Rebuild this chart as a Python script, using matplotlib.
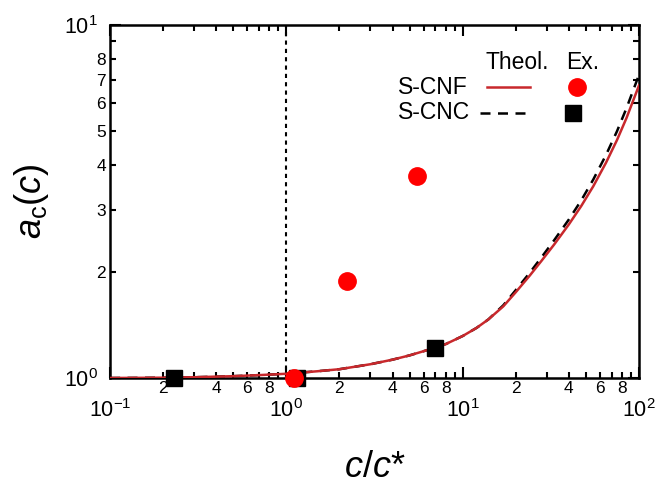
import math
import matplotlib
matplotlib.use("Agg")
import matplotlib.pyplot as plt
from matplotlib.ticker import FixedLocator, FuncFormatter

plt.rcParams["font.family"] = ["Liberation Sans", "DejaVu Sans"]
plt.rcParams["mathtext.fontset"] = "custom"
plt.rcParams["mathtext.rm"] = "Liberation Sans"
plt.rcParams["mathtext.it"] = "Liberation Sans:italic"

# theoretical curves
x_theo = [0.1, 0.2, 0.3, 0.5, 0.7, 1, 1.5, 2, 3, 4, 5, 6, 7, 8, 10, 12, 14,
          17, 20, 24, 28, 33, 40, 47, 55, 65, 75, 85, 100]
cnf_theo = [1.0, 1.002, 1.005, 1.012, 1.019, 1.028, 1.045, 1.059, 1.094, 1.127,
            1.159, 1.191, 1.219, 1.247, 1.315, 1.387, 1.466,
            1.596, 1.750, 1.950, 2.148, 2.388, 2.723, 3.069, 3.491, 4.074, 4.721, 5.458, 6.745]
cnc_theo = [1.0, 1.002, 1.005, 1.012, 1.019, 1.028, 1.045, 1.059, 1.094, 1.127,
            1.159, 1.191, 1.219, 1.247, 1.315, 1.387, 1.466,
            1.607, 1.774, 1.986, 2.198, 2.455, 2.812, 3.184, 3.648, 4.285, 5.000, 5.821, 7.228]

# experimental points
cnf_x = [1.1, 2.22, 5.5]
cnf_y = [1.0, 1.88, 3.73]
cnc_x = [0.23, 1.15, 7.0]
cnc_y = [1.0, 1.0, 1.22]

x_minor_labels = [2, 4, 6, 8]
y_minor_labels = [2, 3, 4, 5, 6, 7, 8]

red_line = "#c8282c"
red_dot = "#ff0000"

fig = plt.figure(figsize=(6.6, 4.83), dpi=100)
ax = fig.add_axes([0.1667, 0.2174, 0.8015, 0.7308])
ax.set_xscale("log")
ax.set_yscale("log")
ax.set_xlim(0.1, 100)
ax.set_ylim(1, 10)

ax.axvline(1.0, color="black", lw=1.5, ls=(0, (2, 2)), zorder=1)
ax.plot(x_theo, cnc_theo, color="black", lw=1.8, ls=(0, (4, 3)), zorder=2)
ax.plot(x_theo, cnf_theo, color=red_line, lw=1.8, zorder=3)
ax.plot(cnc_x, cnc_y, "s", color="black", ms=12, ls="none", zorder=4, clip_on=False)
ax.plot(cnf_x, cnf_y, "o", color=red_dot, ms=12.5, ls="none", zorder=5, clip_on=False)

# ticks
ax.xaxis.set_major_locator(FixedLocator([0.1, 1, 10, 100]))
ax.yaxis.set_major_locator(FixedLocator([1, 10]))
xminor = [m * 10.0 ** e for e in (-1, 0, 1) for m in range(2, 10)]
yminor = list(range(2, 10))
ax.xaxis.set_minor_locator(FixedLocator(xminor))
ax.yaxis.set_minor_locator(FixedLocator(yminor))

def _major(v, pos):
    e = int(round(math.log10(v)))
    return r"$\mathregular{10^{%d}}$" % e

def _xminor(v, pos):
    m = int(round(v / 10 ** math.floor(math.log10(v) + 1e-9)))
    return str(m) if m in x_minor_labels else ""

def _yminor(v, pos):
    m = int(round(v))
    return str(m) if m in y_minor_labels else ""

ax.xaxis.set_major_formatter(FuncFormatter(_major))
ax.yaxis.set_major_formatter(FuncFormatter(_major))
ax.xaxis.set_minor_formatter(FuncFormatter(_xminor))
ax.yaxis.set_minor_formatter(FuncFormatter(_yminor))

ax.tick_params(which="both", direction="in", top=True, right=True, width=1.5, color="black")
ax.tick_params(which="major", length=8)
ax.tick_params(which="minor", length=4.5)
ax.tick_params(axis="x", which="major", labelsize=15.5, pad=15)
ax.tick_params(axis="x", which="minor", labelsize=12.5, pad=2)
ax.tick_params(axis="y", which="major", labelsize=15.5, pad=9)
ax.tick_params(axis="y", which="minor", labelsize=12.5, pad=3)
for s in ax.spines.values():
    s.set_linewidth(1.8)

ax.set_xlabel(r"$c/c$*", fontsize=26, labelpad=20)
ax.set_ylabel(r"$a_{\mathregular{c}}(c)$", fontsize=26, labelpad=9)

# legend drawn by hand
tr = ax.transAxes
ax.text(0.769, 0.895, "Theol.", transform=tr, ha="center", va="center", fontsize=16.5)
ax.text(0.894, 0.895, "Ex.", transform=tr, ha="center", va="center", fontsize=16.5)
ax.text(0.544, 0.824, "S-CNF", transform=tr, ha="left", va="center", fontsize=16.5)
ax.text(0.544, 0.751, "S-CNC", transform=tr, ha="left", va="center", fontsize=16.5)
ax.plot([0.713, 0.794], [0.824, 0.824], transform=tr, color=red_line, lw=1.8)
ax.plot([0.699, 0.788], [0.751, 0.751], transform=tr, color="black", lw=1.8, ls=(0, (4, 3)))
ax.plot([0.883], [0.824], "o", transform=tr, color=red_dot, ms=12.5)
ax.plot([0.875], [0.751], "s", transform=tr, color="black", ms=11)

fig.savefig("out.png", dpi=100)
